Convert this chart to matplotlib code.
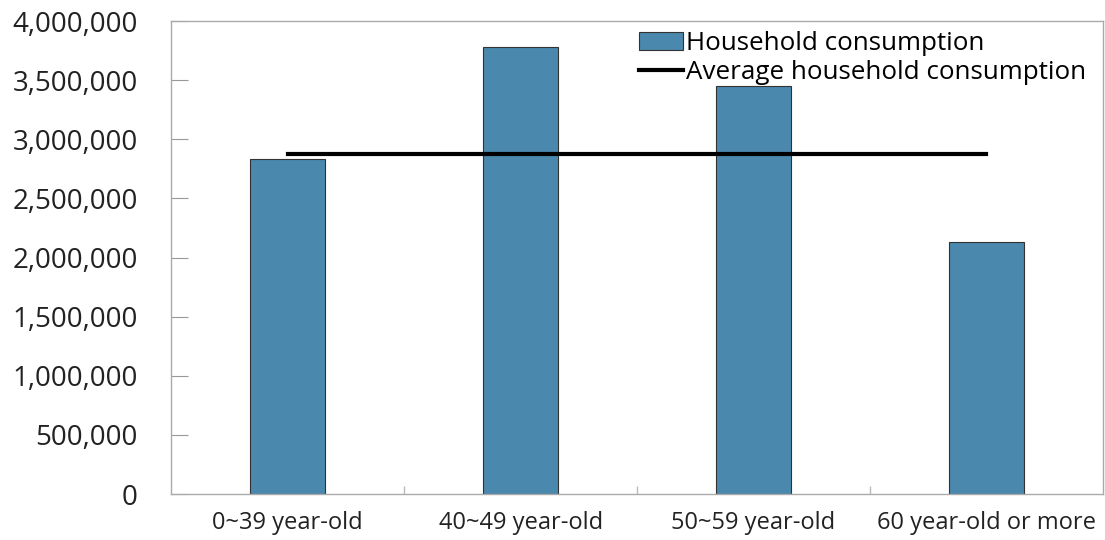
import numpy as np
import matplotlib as mpl
from matplotlib import pyplot as plt
from matplotlib import ticker as ticker

# ------------------ data ----------------------#
categories = ['0~39 year-old', '40~49 year-old', '50~59 year-old', '60 year-old or more']
consumption = [2830000, 3780000, 3450000, 2130000]
average_consumption = [2880000, 2880000, 2880000, 2880000]

plt.rcParams['font.family'] = ['Open Sans', 'DejaVu Sans']
plt.rcParams['xtick.direction'] = "in"
plt.rcParams['ytick.direction'] = "in"

bar_color = '#4a88ad'

fig = plt.figure(figsize=(11.05, 5.4), dpi=100)
ax = fig.add_axes([0.155, 0.085, 0.843, 0.876])

x = np.arange(len(categories))
bars = ax.bar(x, consumption, width=0.32, color=bar_color, edgecolor='#333333', linewidth=0.8,
              label='Household consumption', zorder=2)
line, = ax.plot(x, average_consumption, color='k', linewidth=3, label='Average household consumption', zorder=3)

ax.set_xlim(-0.5, len(categories) - 0.5)
ax.set_ylim(0, 4000000)
ax.yaxis.set_major_locator(ticker.MultipleLocator(500000))
ax.yaxis.set_major_formatter(ticker.FuncFormatter(lambda v, p: '{:,.0f}'.format(v)))

# category ticks sit between the groups
ax.set_xticks(x)
ax.set_xticklabels(categories, fontsize=17, color='#222222')
ax.tick_params(axis='x', length=0, pad=12)
ax.set_xticks(np.arange(0.5, len(categories) - 0.5, 1), minor=True)
ax.tick_params(axis='x', which='minor', length=6, color='#bbbbbb', width=1)
ax.tick_params(axis='y', labelsize=20, length=12, color='#999999', pad=24, labelcolor='#222222')

for sp in ['top', 'right', 'bottom', 'left']:
    ax.spines[sp].set_color('#aaaaaa')
    ax.spines[sp].set_linewidth(1)

ax.legend([bars, line], ['Household consumption', 'Average household consumption'],
          loc='upper right', bbox_to_anchor=(0.993, 1.0), frameon=False, fontsize=18.7,
          handlelength=1.7, handletextpad=0.1, labelspacing=0.15, borderaxespad=0.0)

plt.savefig('out.png', dpi=100, facecolor='w')
plt.close('all')
